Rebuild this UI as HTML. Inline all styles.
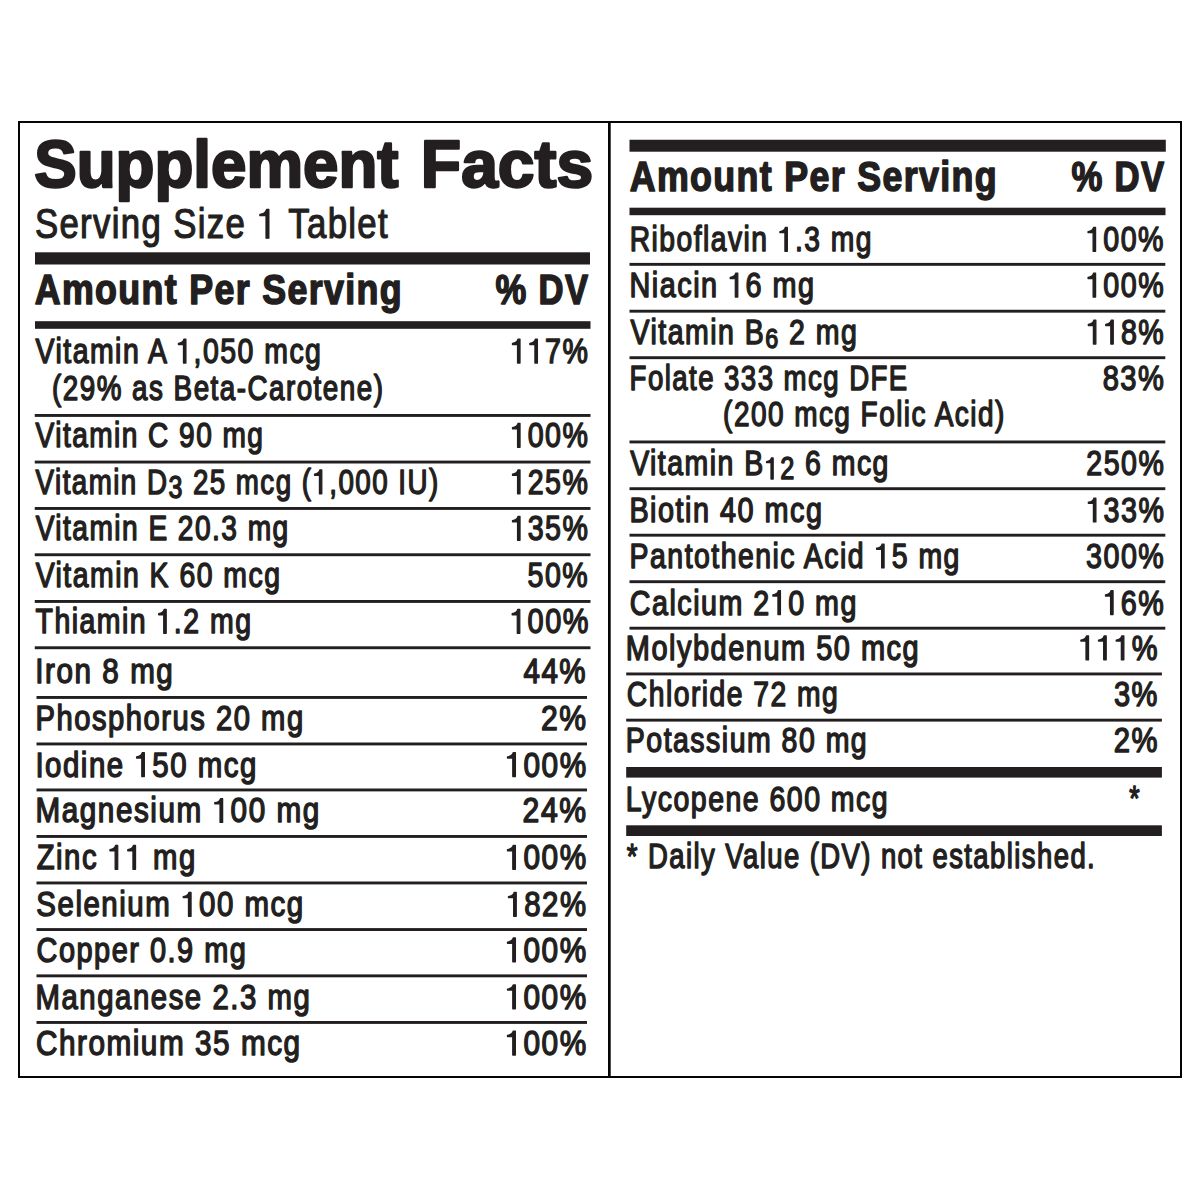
<!DOCTYPE html>
<html><head><meta charset="utf-8"><title>Supplement Facts</title>
<style>html,body{margin:0;padding:0;background:#fff;}svg{display:block;}
.h{fill:none;stroke:none;}path.o{fill:#231f20;stroke:#231f20;stroke-linejoin:round;}
text{font-family:"Liberation Sans",sans-serif;fill:#231f20;stroke:#231f20;stroke-linejoin:round;}
.title{font-size:66.13px;font-weight:bold;stroke-width:2.4;letter-spacing:0px;}
.sub{font-size:41.86px;font-weight:normal;stroke-width:1.2;letter-spacing:1.6px;}
.hdr{font-size:42.73px;font-weight:bold;stroke-width:1.6;letter-spacing:1.6px;}
.row{font-size:34.52px;font-weight:normal;stroke-width:1.45;letter-spacing:1.8px;}
</style></head>
<body><svg width="1200" height="1200" viewBox="0 0 1200 1200">
<rect width="1200" height="1200" fill="#fff"/>
<rect x="18" y="121" width="1164" height="2" fill="#050505"/>
<rect x="18" y="1076" width="1164" height="2" fill="#050505"/>
<rect x="18" y="121" width="2" height="957" fill="#050505"/>
<rect x="1180" y="121" width="2" height="957" fill="#050505"/>
<rect x="608" y="121" width="2.7" height="957" fill="#050505"/>
<rect x="35" y="252.3" width="555" height="12.2" fill="#231f20"/>
<rect x="35" y="321.2" width="555.5" height="7.6" fill="#231f20"/>
<rect x="34.75" y="414" width="555.75" height="2.9" fill="#231f20"/>
<rect x="34.75" y="460.6" width="555.75" height="2.9" fill="#231f20"/>
<rect x="34.75" y="507" width="555.75" height="2.9" fill="#231f20"/>
<rect x="34.75" y="553.3" width="555.75" height="2.9" fill="#231f20"/>
<rect x="34.75" y="600" width="555.75" height="2.9" fill="#231f20"/>
<rect x="34.75" y="646.3" width="555.75" height="2.9" fill="#231f20"/>
<rect x="36.5" y="696" width="550.5" height="2.9" fill="#231f20"/>
<rect x="36.5" y="742.5" width="550.5" height="2.9" fill="#231f20"/>
<rect x="36.5" y="788.5" width="550.5" height="2.9" fill="#231f20"/>
<rect x="36.5" y="835" width="550.5" height="2.9" fill="#231f20"/>
<rect x="36.5" y="881.5" width="550.5" height="2.9" fill="#231f20"/>
<rect x="36.5" y="928.1" width="550.5" height="2.9" fill="#231f20"/>
<rect x="36.5" y="974.4" width="550.5" height="2.9" fill="#231f20"/>
<rect x="36.5" y="1021" width="550.5" height="2.9" fill="#231f20"/>
<rect x="629.5" y="139.75" width="536.3" height="11.95" fill="#231f20"/>
<rect x="629.5" y="207.7" width="536" height="7.5" fill="#231f20"/>
<rect x="629.5" y="262.9" width="535.8" height="2.9" fill="#231f20"/>
<rect x="629.5" y="309.75" width="535.8" height="2.9" fill="#231f20"/>
<rect x="629.5" y="356.25" width="535.8" height="2.9" fill="#231f20"/>
<rect x="629.5" y="440.5" width="535.8" height="2.9" fill="#231f20"/>
<rect x="629.5" y="487.25" width="535.8" height="2.9" fill="#231f20"/>
<rect x="629.5" y="533.75" width="535.8" height="2.9" fill="#231f20"/>
<rect x="629.5" y="580.25" width="535.8" height="2.9" fill="#231f20"/>
<rect x="629.5" y="626.75" width="535.8" height="2.9" fill="#231f20"/>
<rect x="626.2" y="672.5" width="535.7" height="2.9" fill="#231f20"/>
<rect x="626.2" y="718.7" width="535.7" height="2.9" fill="#231f20"/>
<rect x="626.2" y="767" width="535.7" height="10.6" fill="#231f20"/>
<rect x="626.2" y="825.3" width="535.7" height="10.7" fill="#231f20"/>
<text class="title" transform="translate(34.19 186.5) scale(0.9630 1)">Supplement</text>
<text class="title" transform="translate(420.86 186.5) scale(0.9981 1)">Facts</text>
<text class="sub" transform="translate(34.89 238.15) scale(0.8313 1)">Serving Size <tspan class="h">1</tspan> Tablet</text>
<text class="hdr" transform="translate(34.72 304) scale(0.8379 1)">Amount Per Serving</text>
<text class="hdr" transform="translate(495.6 304) scale(0.8105 1)">% DV</text>
<text class="row" transform="translate(35.55 363.02) scale(0.8240 1)">Vitamin A <tspan class="h">1</tspan>,050 mcg</text>
<text class="row" transform="translate(35.6 447.27) scale(0.8130 1)">Vitamin C 90 mg</text>
<text class="row" transform="translate(35.6 493.77) scale(0.8040 1)">Vitamin D<tspan font-size="31.07" dy="4.2">3</tspan><tspan dy="-4.2"> 25 mcg (<tspan class="h">1</tspan>,000 IU)</tspan></text>
<text class="row" transform="translate(35.63 540.27) scale(0.8146 1)">Vitamin E 20.3 mg</text>
<text class="row" transform="translate(35.63 586.77) scale(0.8231 1)">Vitamin K 60 mcg</text>
<text class="row" transform="translate(35.56 633.27) scale(0.8247 1)">Thiamin <tspan class="h">1</tspan>.2 mg</text>
<text class="row" transform="translate(35.35 683.27) scale(0.8583 1)">Iron 8 mg</text>
<text class="row" transform="translate(35.57 729.88) scale(0.8451 1)">Phosphorus 20 mg</text>
<text class="row" transform="translate(35.4 776.52) scale(0.8517 1)">Iodine <tspan class="h">1</tspan>50 mcg</text>
<text class="row" transform="translate(35.53 822.38) scale(0.8596 1)">Magnesium <tspan class="h">1</tspan>00 mg</text>
<text class="row" transform="translate(36.65 869.27) scale(0.8489 1)">Zinc <tspan class="h">1</tspan><tspan class="h">1</tspan> mg</text>
<text class="row" transform="translate(36.29 916.17) scale(0.8533 1)">Selenium <tspan class="h">1</tspan>00 mcg</text>
<text class="row" transform="translate(36.56 961.77) scale(0.8374 1)">Copper 0.9 mg</text>
<text class="row" transform="translate(35.53 1008.67) scale(0.8507 1)">Manganese 2.3 mg</text>
<text class="row" transform="translate(35.89 1055.08) scale(0.8605 1)">Chromium 35 mcg</text>
<text class="row" transform="translate(52.1 400.27) scale(0.8069 1)">(29% as Beta-Carotene)</text>
<text class="hdr" transform="translate(629.72 190.5) scale(0.8379 1)">Amount Per Serving</text>
<text class="hdr" transform="translate(1071.51 190.7) scale(0.8122 1)">% DV</text>
<text class="row" transform="translate(629.67 251.18) scale(0.8187 1)">Riboflavin <tspan class="h">1</tspan>.3 mg</text>
<text class="row" transform="translate(629.58 297.07) scale(0.8340 1)">Niacin <tspan class="h">1</tspan>6 mg</text>
<text class="row" transform="translate(630.61 344.07) scale(0.8249 1)">Vitamin B<tspan font-size="28.31" dy="4.3">6</tspan><tspan dy="-4.3"> 2 mg</tspan></text>
<text class="row" transform="translate(629.59 390.02) scale(0.8001 1)">Folate 333 mcg DFE</text>
<text class="row" transform="translate(630.15 474.77) scale(0.8237 1)">Vitamin B<tspan font-size="30.72" dy="4.3"><tspan class="h">1</tspan>2</tspan><tspan dy="-4.3"> 6 mcg</tspan></text>
<text class="row" transform="translate(629.4 521.88) scale(0.8350 1)">Biotin 40 mcg</text>
<text class="row" transform="translate(629.62 567.88) scale(0.8237 1)">Pantothenic Acid <tspan class="h">1</tspan>5 mg</text>
<text class="row" transform="translate(629.81 614.57) scale(0.8307 1)">Calcium 2<tspan class="h">1</tspan>0 mg</text>
<text class="row" transform="translate(625.82 659.67) scale(0.8387 1)">Molybdenum 50 mcg</text>
<text class="row" transform="translate(626.84 705.98) scale(0.8198 1)">Chloride 72 mg</text>
<text class="row" transform="translate(625.82 752.02) scale(0.8256 1)">Potassium 80 mg</text>
<text class="row" transform="translate(723.1 425.97) scale(0.8109 1)">(200 mcg Folic Acid)</text>
<text class="row" transform="translate(625.82 811.02) scale(0.8253 1)">Lycopene 600 mcg</text>
<text class="row" transform="translate(1129.32 810) scale(0.7728 1)">*</text>
<text class="row" transform="translate(626.85 868.48) scale(0.7955 1)">* Daily Value (DV) not established.</text>
<text class="row" transform="translate(510.32 363.02) scale(0.8281 1)"><tspan class="h">1</tspan><tspan class="h">1</tspan>7%</text>
<text class="row" transform="translate(510.34 447.27) scale(0.8282 1)"><tspan class="h">1</tspan>00%</text>
<text class="row" transform="translate(510.34 493.77) scale(0.8282 1)"><tspan class="h">1</tspan>25%</text>
<text class="row" transform="translate(510.34 540.27) scale(0.8282 1)"><tspan class="h">1</tspan>35%</text>
<text class="row" transform="translate(527.62 586.77) scale(0.8278 1)">50%</text>
<text class="row" transform="translate(510 633.27) scale(0.8371 1)"><tspan class="h">1</tspan>00%</text>
<text class="row" transform="translate(523.45 683.27) scale(0.8557 1)">44%</text>
<text class="row" transform="translate(540.96 729.88) scale(0.8732 1)">2%</text>
<text class="row" transform="translate(505.28 776.52) scale(0.8630 1)"><tspan class="h">1</tspan>00%</text>
<text class="row" transform="translate(522.57 822.38) scale(0.8735 1)">24%</text>
<text class="row" transform="translate(505.28 869.27) scale(0.8631 1)"><tspan class="h">1</tspan>00%</text>
<text class="row" transform="translate(506.27 916.17) scale(0.8515 1)"><tspan class="h">1</tspan>82%</text>
<text class="row" transform="translate(505.28 961.77) scale(0.8631 1)"><tspan class="h">1</tspan>00%</text>
<text class="row" transform="translate(505.28 1008.67) scale(0.8631 1)"><tspan class="h">1</tspan>00%</text>
<text class="row" transform="translate(505.25 1055.08) scale(0.8637 1)"><tspan class="h">1</tspan>00%</text>
<text class="row" transform="translate(1085.88 251.18) scale(0.8294 1)"><tspan class="h">1</tspan>00%</text>
<text class="row" transform="translate(1085.89 297.07) scale(0.8295 1)"><tspan class="h">1</tspan>00%</text>
<text class="row" transform="translate(1086.17 344.07) scale(0.8289 1)"><tspan class="h">1</tspan><tspan class="h">1</tspan>8%</text>
<text class="row" transform="translate(1102.64 390.02) scale(0.8437 1)">83%</text>
<text class="row" transform="translate(1086.31 474.77) scale(0.8274 1)">250%</text>
<text class="row" transform="translate(1086.19 521.88) scale(0.8304 1)"><tspan class="h">1</tspan>33%</text>
<text class="row" transform="translate(1086.05 567.88) scale(0.8308 1)">300%</text>
<text class="row" transform="translate(1103.33 614.57) scale(0.8323 1)"><tspan class="h">1</tspan>6%</text>
<text class="row" transform="translate(1078.68 659.67) scale(0.8415 1)"><tspan class="h">1</tspan><tspan class="h">1</tspan><tspan class="h">1</tspan>%</text>
<text class="row" transform="translate(1113.92 705.98) scale(0.8419 1)">3%</text>
<text class="row" transform="translate(1113.69 752.02) scale(0.8472 1)">2%</text>
<path class="sub o" transform="translate(34.89 238.15) scale(0.8313 1)" d="M277.92,0L281.62,0 281.62,-28.8 278.53,-28.8Q277.2,-24.53 270.48,-23.69L270.48,-22.52 277.92,-22.52Z"/>
<path class="row o" transform="translate(35.55 363.02) scale(0.8240 1)" d="M179.47,0L182.52,0 182.52,-23.75 179.98,-23.75Q178.88,-20.23 173.34,-19.54L173.34,-18.57 179.47,-18.57Z"/>
<path class="row o" transform="translate(35.6 493.77) scale(0.8040 1)" d="M352.99,0L356.04,0 356.04,-23.75 353.49,-23.75Q352.4,-20.23 346.85,-19.54L346.85,-18.57 352.99,-18.57Z"/>
<path class="row o" transform="translate(35.56 633.27) scale(0.8247 1)" d="M155.39,0L158.44,0 158.44,-23.75 155.9,-23.75Q154.8,-20.23 149.26,-19.54L149.26,-18.57 155.39,-18.57Z"/>
<path class="row o" transform="translate(35.4 776.52) scale(0.8517 1)" d="M124.89,0L127.94,0 127.94,-23.75 125.4,-23.75Q124.3,-20.23 118.76,-19.54L118.76,-18.57 124.89,-18.57Z"/>
<path class="row o" transform="translate(35.53 822.38) scale(0.8596 1)" d="M214.62,0L217.67,0 217.67,-23.75 215.13,-23.75Q214.03,-20.23 208.49,-19.54L208.49,-18.57 214.62,-18.57Z"/>
<path class="row o" transform="translate(36.65 869.27) scale(0.8489 1)" d="M92.45,0L95.51,0 95.51,-23.75 92.96,-23.75Q91.86,-20.23 86.32,-19.54L86.32,-18.57 92.45,-18.57Z"/>
<path class="row o" transform="translate(36.65 869.27) scale(0.8489 1)" d="M113.44,0L116.5,0 116.5,-23.75 113.95,-23.75Q112.85,-20.23 107.31,-19.54L107.31,-18.57 113.44,-18.57Z"/>
<path class="row o" transform="translate(36.29 916.17) scale(0.8533 1)" d="M178.34,0L181.39,0 181.39,-23.75 178.84,-23.75Q177.75,-20.23 172.2,-19.54L172.2,-18.57 178.34,-18.57Z"/>
<path class="row o" transform="translate(629.67 251.18) scale(0.8187 1)" d="M189.58,0L192.63,0 192.63,-23.75 190.08,-23.75Q188.99,-20.23 183.44,-19.54L183.44,-18.57 189.58,-18.57Z"/>
<path class="row o" transform="translate(629.58 297.07) scale(0.8340 1)" d="M126.74,0L129.79,0 129.79,-23.75 127.25,-23.75Q126.15,-20.23 120.6,-19.54L120.6,-18.57 126.74,-18.57Z"/>
<path class="row o" transform="translate(630.15 474.77) scale(0.8237 1)" d="M170.97,4.3L173.68,4.3 173.68,-16.84 171.42,-16.84Q170.44,-13.7 165.51,-13.09L165.51,-12.23 170.97,-12.23Z"/>
<path class="row o" transform="translate(629.62 567.88) scale(0.8237 1)" d="M305.92,0L308.97,0 308.97,-23.75 306.42,-23.75Q305.33,-20.23 299.78,-19.54L299.78,-18.57 305.92,-18.57Z"/>
<path class="row o" transform="translate(629.81 614.57) scale(0.8307 1)" d="M178.3,0L181.35,0 181.35,-23.75 178.8,-23.75Q177.71,-20.23 172.16,-19.54L172.16,-18.57 178.3,-18.57Z"/>
<path class="row o" transform="translate(510.32 363.02) scale(0.8281 1)" d="M8.68,0L11.73,0 11.73,-23.75 9.19,-23.75Q8.09,-20.23 2.55,-19.54L2.55,-18.57 8.68,-18.57Z"/>
<path class="row o" transform="translate(510.32 363.02) scale(0.8281 1)" d="M29.68,0L32.73,0 32.73,-23.75 30.19,-23.75Q29.09,-20.23 23.55,-19.54L23.55,-18.57 29.68,-18.57Z"/>
<path class="row o" transform="translate(510.34 447.27) scale(0.8282 1)" d="M8.68,0L11.73,0 11.73,-23.75 9.19,-23.75Q8.09,-20.23 2.55,-19.54L2.55,-18.57 8.68,-18.57Z"/>
<path class="row o" transform="translate(510.34 493.77) scale(0.8282 1)" d="M8.68,0L11.73,0 11.73,-23.75 9.19,-23.75Q8.09,-20.23 2.55,-19.54L2.55,-18.57 8.68,-18.57Z"/>
<path class="row o" transform="translate(510.34 540.27) scale(0.8282 1)" d="M8.68,0L11.73,0 11.73,-23.75 9.19,-23.75Q8.09,-20.23 2.55,-19.54L2.55,-18.57 8.68,-18.57Z"/>
<path class="row o" transform="translate(510 633.27) scale(0.8371 1)" d="M8.68,0L11.73,0 11.73,-23.75 9.19,-23.75Q8.09,-20.23 2.55,-19.54L2.55,-18.57 8.68,-18.57Z"/>
<path class="row o" transform="translate(505.28 776.52) scale(0.8630 1)" d="M8.68,0L11.73,0 11.73,-23.75 9.19,-23.75Q8.09,-20.23 2.55,-19.54L2.55,-18.57 8.68,-18.57Z"/>
<path class="row o" transform="translate(505.28 869.27) scale(0.8631 1)" d="M8.68,0L11.73,0 11.73,-23.75 9.19,-23.75Q8.09,-20.23 2.55,-19.54L2.55,-18.57 8.68,-18.57Z"/>
<path class="row o" transform="translate(506.27 916.17) scale(0.8515 1)" d="M8.68,0L11.73,0 11.73,-23.75 9.19,-23.75Q8.09,-20.23 2.55,-19.54L2.55,-18.57 8.68,-18.57Z"/>
<path class="row o" transform="translate(505.28 961.77) scale(0.8631 1)" d="M8.68,0L11.73,0 11.73,-23.75 9.19,-23.75Q8.09,-20.23 2.55,-19.54L2.55,-18.57 8.68,-18.57Z"/>
<path class="row o" transform="translate(505.28 1008.67) scale(0.8631 1)" d="M8.68,0L11.73,0 11.73,-23.75 9.19,-23.75Q8.09,-20.23 2.55,-19.54L2.55,-18.57 8.68,-18.57Z"/>
<path class="row o" transform="translate(505.25 1055.08) scale(0.8637 1)" d="M8.68,0L11.73,0 11.73,-23.75 9.19,-23.75Q8.09,-20.23 2.55,-19.54L2.55,-18.57 8.68,-18.57Z"/>
<path class="row o" transform="translate(1085.88 251.18) scale(0.8294 1)" d="M8.68,0L11.73,0 11.73,-23.75 9.19,-23.75Q8.09,-20.23 2.55,-19.54L2.55,-18.57 8.68,-18.57Z"/>
<path class="row o" transform="translate(1085.89 297.07) scale(0.8295 1)" d="M8.68,0L11.73,0 11.73,-23.75 9.19,-23.75Q8.09,-20.23 2.55,-19.54L2.55,-18.57 8.68,-18.57Z"/>
<path class="row o" transform="translate(1086.17 344.07) scale(0.8289 1)" d="M8.68,0L11.73,0 11.73,-23.75 9.19,-23.75Q8.09,-20.23 2.55,-19.54L2.55,-18.57 8.68,-18.57Z"/>
<path class="row o" transform="translate(1086.17 344.07) scale(0.8289 1)" d="M29.67,0L32.72,0 32.72,-23.75 30.18,-23.75Q29.08,-20.23 23.54,-19.54L23.54,-18.57 29.67,-18.57Z"/>
<path class="row o" transform="translate(1086.19 521.88) scale(0.8304 1)" d="M8.68,0L11.73,0 11.73,-23.75 9.19,-23.75Q8.09,-20.23 2.55,-19.54L2.55,-18.57 8.68,-18.57Z"/>
<path class="row o" transform="translate(1103.33 614.57) scale(0.8323 1)" d="M8.68,0L11.73,0 11.73,-23.75 9.19,-23.75Q8.09,-20.23 2.55,-19.54L2.55,-18.57 8.68,-18.57Z"/>
<path class="row o" transform="translate(1078.68 659.67) scale(0.8415 1)" d="M8.68,0L11.73,0 11.73,-23.75 9.19,-23.75Q8.09,-20.23 2.55,-19.54L2.55,-18.57 8.68,-18.57Z"/>
<path class="row o" transform="translate(1078.68 659.67) scale(0.8415 1)" d="M29.68,0L32.73,0 32.73,-23.75 30.19,-23.75Q29.09,-20.23 23.54,-19.54L23.54,-18.57 29.68,-18.57Z"/>
<path class="row o" transform="translate(1078.68 659.67) scale(0.8415 1)" d="M50.68,0L53.73,0 53.73,-23.75 51.18,-23.75Q50.09,-20.23 44.54,-19.54L44.54,-18.57 50.68,-18.57Z"/>
</svg></body></html>
